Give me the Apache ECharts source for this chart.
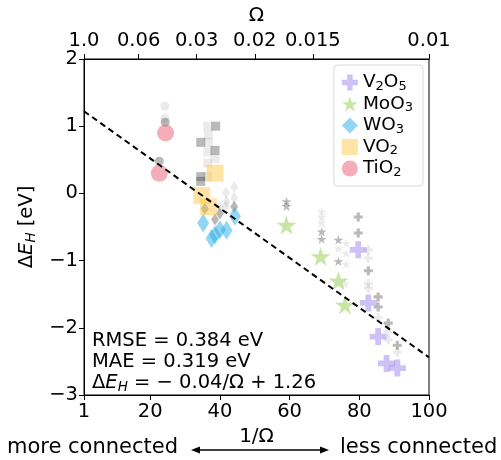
<!DOCTYPE html>
<html><head><meta charset="utf-8">
<script src="https://cdn.jsdelivr.net/npm/echarts@6/dist/echarts.min.js"></script>
<style>html,body{margin:0;padding:0;background:#fff}#c{width:501px;height:460px}</style>
</head><body><div id="c"></div>
<script>
// ---- data ----
var bottomTicks = [1, 20, 40, 60, 80, 100];
var topOmega = [1.0, 0.06, 0.03, 0.02, 0.015, 0.01];
var topOmegaLabels = ['1.0', '0.06', '0.03', '0.02', '0.015', '0.01'];
var yTicks = [-3, -2, -1, 0, 1, 2];

var tio2X = [24.4, 22.6];
var tio2Y = [0.90, 0.30];
var vo2X = [38.6, 34.8, 36.7];
var vo2Y = [0.30, -0.03, -0.20];
var wo3X = [35.2, 38.6, 40.0, 41.9, 44.3, 37.6];
var wo3Y = [-0.44, -0.62, -0.54, -0.55, -0.34, -0.67];
var moo3X = [59.1, 68.9, 74.0, 75.9];
var moo3Y = [-0.47, -0.94, -1.30, -1.66];
var v2o5X = [79.7, 82.6, 85.4, 87.8, 90.9];
var v2o5Y = [-0.84, -1.63, -2.13, -2.53, -2.60];

var greyCircDark = [[22.6, 0.48], [24.3, 1.06]];
var greyCircLight = [[24.2, 1.30], [24.2, 1.12]];
var greySqDark = [[34.5, 0.76], [38.6, 0.64], [34.5, 0.25], [34.5, 0.18], [38.8, 1.00]];
var greySqLight = [[36.5, 1.00], [36.7, 0.87], [36.7, 0.76], [36.5, 0.62], [38.6, 0.52], [36.5, 0.45], [36.5, 0.25]];
var greyDiaDark = [[38.6, -0.39], [35.7, -0.23], [44.1, -0.20], [40.0, -0.30]];
var greyDiaLight = [[41.7, 0.01], [44.1, 0.09], [44.1, -0.07], [41.9, -0.12], [40.0, -0.19], [41.7, -0.19]];
var greyStarDark = [[59.1, -0.12], [59.1, -0.19], [69.2, -0.57], [69.2, -0.68], [74.0, -0.69], [74.0, -1.01]];
var greyStarLight = [[69.2, -0.27], [69.2, -0.44], [69.2, -0.35], [74.0, -0.82], [76.2, -0.74], [76.2, -0.89], [76.2, -1.05], [75.9, -1.34]];
var greyCrossDark = [[79.7, -0.35], [79.7, -0.59], [82.6, -1.15], [85.4, -1.54], [85.4, -1.69], [88.3, -1.93], [90.9, -2.26]];
var greyCrossLight = [[82.6, -0.84], [82.6, -0.96], [82.6, -1.34], [82.6, -1.41], [88.3, -2.06], [88.3, -2.18], [90.9, -2.36], [85.4, -1.85]];

var fitSlope = -0.037;
var fitIntercept = 1.26;
var fitX = [1, 100];

// ---- helpers ----
function zip(xs, ys) { return xs.map(function (x, i) { return [x, ys[i]]; }); }
var STAR = 'path://M50,0 L61.2,34.5 L97.6,34.5 L68.2,55.9 L79.4,90.5 L50,69.1 L20.6,90.5 L31.8,55.9 L2.4,34.5 L38.8,34.5 Z';
var PLUS = 'path://M33,0 L67,0 L67,33 L100,33 L100,67 L67,67 L67,100 L33,100 L33,67 L0,67 L0,33 L33,33 Z';
var FONT = 'DejaVu Sans';
var TICK = 19.5;
var darkGrey = 'rgba(60,60,60,0.45)';
var lightGrey = 'rgba(120,120,120,0.18)';

function greySeries(data, symbol, size, color) {
  return { type: 'scatter', data: data, symbol: symbol, symbolSize: size, symbolKeepAspect: true,
    itemStyle: { color: color }, silent: true, z: 2, legendHoverLink: false };
}

var chart = echarts.init(document.getElementById('c'), null, { renderer: 'canvas' });
var subRich = {
  n: { fontFamily: FONT, fontSize: 18.5, color: '#000', lineHeight: 18 },
  s: { fontFamily: FONT, fontSize: 13, color: '#000', padding: [8, 0, 0, 0], lineHeight: 12 }
};
var legendFmt = {
  'V2O5': '{n|V}{s|2}{n|O}{s|5}',
  'MoO3': '{n|MoO}{s|3}',
  'WO3': '{n|WO}{s|3}',
  'VO2': '{n|VO}{s|2}',
  'TiO2': '{n|TiO}{s|2}'
};
var topVals = topOmega.map(function (o) { return 1 / o; });

var option = {
  animation: false,
  backgroundColor: '#fff',
  grid: { left: 84, right: 72, top: 59, bottom: 65, show: true, borderColor: '#000', borderWidth: 1, backgroundColor: 'transparent' },
  xAxis: [
    { type: 'value', position: 'bottom', min: 1, max: 100,
      name: '1/Ω', nameLocation: 'middle', nameGap: 32,
      nameTextStyle: { fontFamily: FONT, fontSize: 20, color: '#000' },
      axisLine: { show: true, onZero: false, lineStyle: { color: '#000', width: 1 } },
      axisTick: { show: true, length: 5, customValues: bottomTicks, lineStyle: { color: '#000' } },
      axisLabel: { customValues: bottomTicks, fontFamily: FONT, fontSize: TICK, color: '#000', margin: 7 },
      splitLine: { show: false } },
    { type: 'value', position: 'top', min: 1, max: 100,
      name: 'Ω', nameLocation: 'middle', nameGap: 32,
      nameTextStyle: { fontFamily: FONT, fontSize: 20, color: '#000' },
      axisLine: { show: true, onZero: false, lineStyle: { color: '#000', width: 1 } },
      axisTick: { show: true, length: 5, customValues: topVals, lineStyle: { color: '#000' } },
      axisLabel: { customValues: topVals, fontFamily: FONT, fontSize: TICK, color: '#000', margin: 8,
        formatter: function (v) {
          for (var i = 0; i < topOmega.length; i++) { if (Math.abs(1 / topOmega[i] - v) < 0.01) return topOmegaLabels[i]; }
          return '';
        } },
      splitLine: { show: false } }
  ],
  yAxis: [
    { type: 'value', min: -3, max: 2, interval: 1,
      name: '{a|Δ}{i|E}{h|H}{a| [eV]}', nameLocation: 'middle', nameGap: 43, nameRotate: 90,
      nameTextStyle: { fontFamily: FONT, fontSize: 19.5, color: '#000',
        rich: {
          a: { fontFamily: FONT, fontSize: 19.5, color: '#000', lineHeight: 20 },
          i: { fontFamily: FONT, fontSize: 19.5, fontStyle: 'italic', color: '#000', lineHeight: 20 },
          h: { fontFamily: FONT, fontSize: 13.5, fontStyle: 'italic', color: '#000', padding: [9, 0, 0, 0], lineHeight: 20 }
        } },
      axisLine: { show: true, onZero: false, lineStyle: { color: '#000', width: 1 } },
      axisTick: { show: true, length: 5, lineStyle: { color: '#000' } },
      axisLabel: { fontFamily: FONT, fontSize: TICK, color: '#000', margin: 6,
        formatter: function (v) { return v < 0 ? '\u2212' + Math.abs(v) : String(v); } },
      splitLine: { show: false } }
  ],
  legend: {
    orient: 'vertical', right: 78, top: 65, itemGap: 0.5, itemWidth: 16, itemHeight: 16,
    backgroundColor: '#fff', borderColor: '#d8d8d8', borderWidth: 1, borderRadius: 4,
    padding: [7, 10, 7, 8],
    data: ['V2O5', 'MoO3', 'WO3', 'VO2', 'TiO2'],
    formatter: function (name) { return legendFmt[name]; },
    textStyle: { fontFamily: FONT, fontSize: 18.5, color: '#000', rich: subRich }
  },
  graphic: [
    { type: 'text', left: 92, top: 330, z: 100,
      style: { text: 'RMSE = 0.384 eV\nMAE = 0.319 eV\n{a|Δ}{i|E}{h|H}{a| = − 0.04/Ω + 1.26}',
        fontFamily: FONT, fontSize: 19.5, fill: '#000', lineHeight: 21,
        rich: {
          a: { fontFamily: FONT, fontSize: 19.5, fill: '#000', lineHeight: 21 },
          i: { fontFamily: FONT, fontSize: 19.5, fontStyle: 'italic', fill: '#000', lineHeight: 21 },
          h: { fontFamily: FONT, fontSize: 13.5, fontStyle: 'italic', fill: '#000', padding: [9, 0, 0, 0], lineHeight: 21 }
        } } },
    { type: 'text', left: 7, top: 437, style: { text: 'more connected', fontFamily: FONT, fontSize: 21, fill: '#000' } },
    { type: 'text', left: 340, top: 437, style: { text: 'less connected', fontFamily: FONT, fontSize: 21, fill: '#000' } },
    { type: 'line', shape: { x1: 196, y1: 450, x2: 324, y2: 450 }, style: { stroke: '#000', lineWidth: 1.5 } },
    { type: 'polygon', shape: { points: [[191, 450], [200, 446.5], [200, 453.5]] }, style: { fill: '#000' } },
    { type: 'polygon', shape: { points: [[329, 450], [320, 446.5], [320, 453.5]] }, style: { fill: '#000' } }
  ],
  series: [
    greySeries(greyCircLight, 'circle', 9, lightGrey),
    greySeries(greyCircDark, 'circle', 9, darkGrey),
    greySeries(greySqLight, 'rect', 9, lightGrey),
    greySeries(greySqDark, 'rect', 9, darkGrey),
    greySeries(greyDiaLight, 'diamond', [8, 12], lightGrey),
    greySeries(greyDiaDark, 'diamond', [8, 12], darkGrey),
    greySeries(greyStarLight, STAR, 10, lightGrey),
    greySeries(greyStarDark, STAR, 10, darkGrey),
    greySeries(greyCrossLight, PLUS, 9, lightGrey),
    greySeries(greyCrossDark, PLUS, 9, darkGrey),
    { name: 'V2O5', type: 'scatter', data: zip(v2o5X, v2o5Y), symbol: PLUS, symbolSize: 17, z: 3,
      itemStyle: { color: 'rgba(130,100,230,0.5)' } },
    { name: 'MoO3', type: 'scatter', data: zip(moo3X, moo3Y), symbol: STAR, symbolSize: 20, symbolKeepAspect: true, z: 3,
      itemStyle: { color: 'rgba(140,200,70,0.6)' } },
    { name: 'WO3', type: 'scatter', data: zip(wo3X, wo3Y), symbol: 'diamond', symbolSize: [12, 19], z: 3,
      itemStyle: { color: 'rgba(30,170,225,0.6)' } },
    { name: 'VO2', type: 'scatter', data: zip(vo2X, vo2Y), symbol: 'rect', symbolSize: 17, z: 3,
      itemStyle: { color: 'rgba(255,195,50,0.55)' } },
    { name: 'TiO2', type: 'scatter', data: zip(tio2X, tio2Y), symbol: 'circle', symbolSize: 17, z: 3,
      itemStyle: { color: 'rgba(232,70,95,0.55)' } },
    { type: 'line', data: fitX.map(function (x) { return [x, fitSlope * x + fitIntercept]; }), symbol: 'none', z: 4,
      lineStyle: { color: '#000', width: 2, type: [6, 4] }, silent: true }
  ]
};
chart.setOption(option);
</script></body></html>
